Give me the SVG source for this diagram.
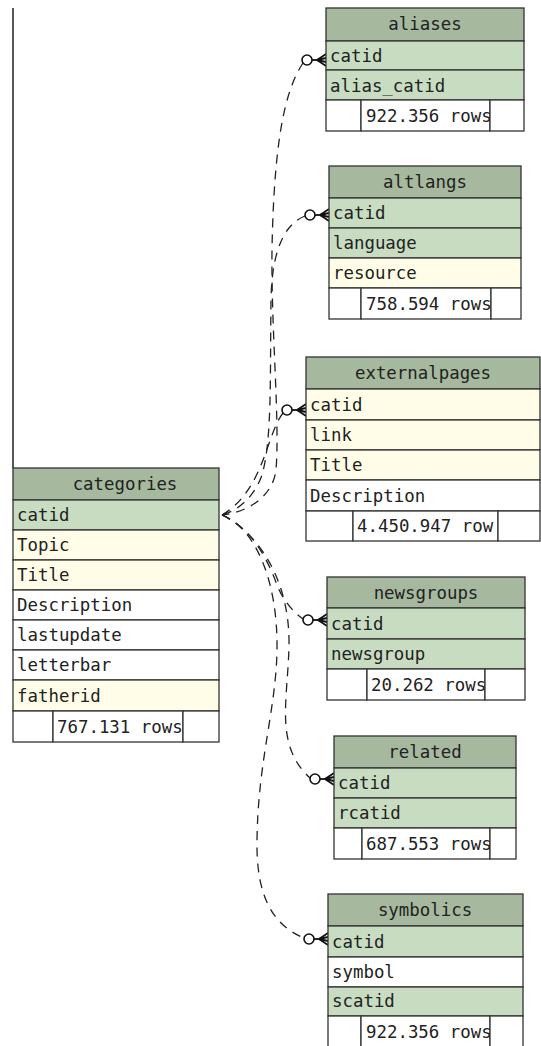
<svg xmlns="http://www.w3.org/2000/svg" width="541" height="1046" viewBox="0 0 541 1046">
<style>
rect{stroke:#333;stroke-width:1.3}
rect.bg{stroke:none;fill:#fff}
.hd{fill:#a6b89e}
.k{fill:#c8dcc2}
.y{fill:#fffde7}
.w{fill:#fff}
text{font-family:"DejaVu Sans Mono","Liberation Mono",monospace;font-size:17.4px;fill:#222}
.c{text-anchor:middle}
.con path{fill:none;stroke:#222;stroke-width:1.3;stroke-dasharray:9 7}
.crow circle{fill:#fff;stroke:#111;stroke-width:1.6}
.crow line{stroke:#111;stroke-width:1.8}
</style>
<defs>
<g id="crow" class="crow">
<line x1="-14" y1="0" x2="-9" y2="0"/>
<line x1="-9" y1="0" x2="0" y2="-6"/>
<line x1="-9" y1="0" x2="0" y2="-2"/>
<line x1="-9" y1="0" x2="0" y2="2"/>
<line x1="-9" y1="0" x2="0" y2="6"/>
<circle cx="-19" cy="0" r="5"/>
</g>
<clipPath id="cA"><rect x="361" y="100" width="129" height="31"/></clipPath>
<clipPath id="cB"><rect x="361" y="288" width="130" height="31"/></clipPath>
<clipPath id="cC"><rect x="353" y="511" width="145" height="31"/></clipPath>
<clipPath id="cD"><rect x="53" y="711" width="130" height="31"/></clipPath>
<clipPath id="cE"><rect x="367" y="669" width="118" height="31"/></clipPath>
<clipPath id="cF"><rect x="362" y="828" width="128" height="31"/></clipPath>
<clipPath id="cG"><rect x="361" y="1016" width="129" height="31"/></clipPath>
</defs>
<rect class="bg" width="541" height="1046"/>
<line x1="13" y1="8" x2="13" y2="468" stroke="#111" stroke-width="1.4"/>

<g class="con" id="connectors">
<path d="M303 63 C285 90 274 140 272 250 C271 330 280 420 276 470 C273 495 250 512 222 515"/>
<path d="M305 216 C290 222 272 240 271 300 C270 380 272 440 262 475 C255 495 240 510 222 515"/>
<path d="M283 413 C266 435 264 490 222 515"/>
<path d="M222 515 C252 528 268 560 277 585 C283 600 292 611 303 619"/>
<path d="M222 515 C262 535 290 585 289 645 C288 700 274 745 310 778"/>
<path d="M222 515 C255 528 278 580 277 650 C276 710 258 760 257 840 C256 895 272 925 304 938"/>
<use href="#crow" transform="translate(326,60)"/>
<use href="#crow" transform="translate(329,215)"/>
<use href="#crow" transform="translate(306,410)"/>
<use href="#crow" transform="translate(327,620)"/>
<use href="#crow" transform="translate(334,779)"/>
<use href="#crow" transform="translate(328,939)"/>
</g>

<g id="aliases">
<rect class="hd" x="326" y="8" width="198" height="33"/>
<rect class="k" x="326" y="41" width="198" height="29"/>
<rect class="k" x="326" y="70" width="198" height="30"/>
<rect class="w" x="326" y="100" width="35" height="31"/>
<rect class="w" x="361" y="100" width="129" height="31"/>
<rect class="w" x="490" y="100" width="34" height="31"/>
<text class="c" x="425" y="30">aliases</text>
<text x="330" y="62">catid</text>
<text x="330" y="92">alias_catid</text>
<text x="366" y="122" clip-path="url(#cA)">922.356 rows</text>
</g>

<g id="altlangs">
<rect class="hd" x="329" y="166" width="192" height="32"/>
<rect class="k" x="329" y="198" width="192" height="30"/>
<rect class="k" x="329" y="228" width="192" height="30"/>
<rect class="y" x="329" y="258" width="192" height="30"/>
<rect class="w" x="329" y="288" width="32" height="31"/>
<rect class="w" x="361" y="288" width="130" height="31"/>
<rect class="w" x="491" y="288" width="30" height="31"/>
<text class="c" x="425" y="188">altlangs</text>
<text x="333" y="219">catid</text>
<text x="333" y="249">language</text>
<text x="333" y="279">resource</text>
<text x="366" y="310" clip-path="url(#cB)">758.594 rows</text>
</g>

<g id="externalpages">
<rect class="hd" x="306" y="357" width="234" height="32"/>
<rect class="y" x="306" y="389" width="234" height="31"/>
<rect class="y" x="306" y="420" width="234" height="30"/>
<rect class="y" x="306" y="450" width="234" height="30"/>
<rect class="w" x="306" y="480" width="234" height="31"/>
<rect class="w" x="306" y="511" width="47" height="30"/>
<rect class="w" x="353" y="511" width="145" height="30"/>
<rect class="w" x="498" y="511" width="42" height="30"/>
<text class="c" x="423" y="379">externalpages</text>
<text x="310" y="411">catid</text>
<text x="310" y="441">link</text>
<text x="310" y="471">Title</text>
<text x="310" y="502">Description</text>
<text x="357" y="532" clip-path="url(#cC)">4.450.947 row</text>
</g>

<g id="categories">
<rect class="hd" x="13" y="468" width="206" height="32"/>
<rect class="k" x="13" y="500" width="206" height="30"/>
<rect class="y" x="13" y="530" width="206" height="30"/>
<rect class="y" x="13" y="560" width="206" height="30"/>
<rect class="w" x="13" y="590" width="206" height="30"/>
<rect class="w" x="13" y="620" width="206" height="30"/>
<rect class="w" x="13" y="650" width="206" height="30"/>
<rect class="y" x="13" y="680" width="206" height="31"/>
<rect class="w" x="13" y="711" width="40" height="31"/>
<rect class="w" x="53" y="711" width="130" height="31"/>
<rect class="w" x="183" y="711" width="36" height="31"/>
<text class="c" x="125" y="490">categories</text>
<text x="17" y="521">catid</text>
<text x="17" y="551">Topic</text>
<text x="17" y="581">Title</text>
<text x="17" y="611">Description</text>
<text x="17" y="641">lastupdate</text>
<text x="17" y="671">letterbar</text>
<text x="17" y="702">fatherid</text>
<text x="57" y="733" clip-path="url(#cD)">767.131 rows</text>
</g>

<g id="newsgroups">
<rect class="hd" x="327" y="577" width="198" height="31"/>
<rect class="k" x="327" y="608" width="198" height="31"/>
<rect class="k" x="327" y="639" width="198" height="30"/>
<rect class="w" x="327" y="669" width="40" height="31"/>
<rect class="w" x="367" y="669" width="118" height="31"/>
<rect class="w" x="485" y="669" width="40" height="31"/>
<text class="c" x="426" y="599">newsgroups</text>
<text x="331" y="630">catid</text>
<text x="331" y="660">newsgroup</text>
<text x="371" y="691" clip-path="url(#cE)">20.262 rows</text>
</g>

<g id="related">
<rect class="hd" x="334" y="736" width="182" height="32"/>
<rect class="k" x="334" y="768" width="182" height="30"/>
<rect class="k" x="334" y="798" width="182" height="30"/>
<rect class="w" x="334" y="828" width="28" height="31"/>
<rect class="w" x="362" y="828" width="128" height="31"/>
<rect class="w" x="490" y="828" width="26" height="31"/>
<text class="c" x="425" y="758">related</text>
<text x="338" y="789">catid</text>
<text x="338" y="819">rcatid</text>
<text x="366" y="850" clip-path="url(#cF)">687.553 rows</text>
</g>

<g id="symbolics">
<rect class="hd" x="328" y="894" width="195" height="32"/>
<rect class="k" x="328" y="926" width="195" height="31"/>
<rect class="w" x="328" y="957" width="195" height="30"/>
<rect class="k" x="328" y="987" width="195" height="29"/>
<rect class="w" x="328" y="1016" width="33" height="32"/>
<rect class="w" x="361" y="1016" width="129" height="32"/>
<rect class="w" x="490" y="1016" width="33" height="32"/>
<text class="c" x="425" y="916">symbolics</text>
<text x="332" y="948">catid</text>
<text x="332" y="978">symbol</text>
<text x="332" y="1007">scatid</text>
<text x="366" y="1038" clip-path="url(#cG)">922.356 rows</text>
</g>
</svg>
